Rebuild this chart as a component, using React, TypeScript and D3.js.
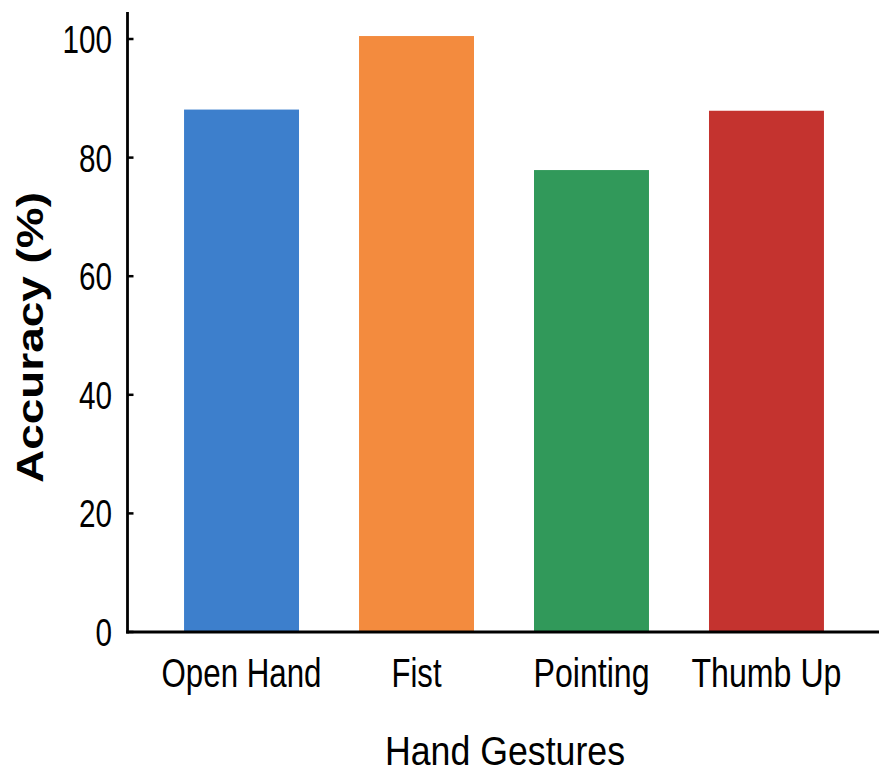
import React from "react";
import * as d3 from "d3";

const categories = ["Open Hand", "Fist", "Pointing", "Thumb Up"];
const accuracy = [88.1, 100.5, 77.9, 87.9];
const barColors = ["#3d7fcc", "#f38b3e", "#31995a", "#c4332f"];
const yTicks = [0, 20, 40, 60, 80, 100];
const labelWidths = [160, 50, 116, 150];
const xTitle = "Hand Gestures";
const yTitle = "Accuracy (%)";

const W = 880;
const H = 771;
const FONT = "'Liberation Sans', Arial, Helvetica, sans-serif";

export default function App() {
  const axisX = 127.5;
  const axisY = 632;
  const y = d3.scaleLinear().domain([0, 100]).range([axisY, 39]);
  const x = d3
    .scaleBand<string>()
    .domain(categories)
    .range([127, 881])
    .paddingInner(0.343)
    .paddingOuter(0.326);

  return (
    <svg
      width={W}
      height={H}
      style={{ position: "absolute", left: 0, top: 0, background: "#fff" }}
    >
      {categories.map((c, i) => (
        <rect
          key={c}
          x={x(c)!}
          y={y(accuracy[i])}
          width={x.bandwidth()}
          height={axisY - y(accuracy[i])}
          fill={barColors[i]}
        />
      ))}
      {/* axes */}
      <line x1={axisX} x2={axisX} y1={12} y2={axisY + 1.5} stroke="#000" strokeWidth={2.8} />
      <line x1={axisX - 1.4} x2={879} y1={axisY} y2={axisY} stroke="#000" strokeWidth={3} />
      {yTicks.map((t) => (
        <g key={t}>
          <line x1={axisX} x2={axisX + 6} y1={y(t)} y2={y(t)} stroke="#000" strokeWidth={2.5} />
          <text
            x={112 - String(t).length * 16.5}
            y={y(t) + 14}
            fontFamily={FONT}
            fontSize={39}
            textLength={String(t).length * 16.5}
            lengthAdjust="spacingAndGlyphs"
            fill="#000"
          >
            {t}
          </text>
        </g>
      ))}
      {categories.map((c, i) => (
        <text
          key={c}
          x={x(c)! + x.bandwidth() / 2 - labelWidths[i] / 2}
          y={687}
          fontFamily={FONT}
          fontSize={41}
          textLength={labelWidths[i]}
          lengthAdjust="spacingAndGlyphs"
          fill="#000"
        >
          {c}
        </text>
      ))}
      <text
        x={505 - 120}
        y={765}
        fontFamily={FONT}
        fontSize={41}
        textLength={240}
        lengthAdjust="spacingAndGlyphs"
        fill="#000"
      >
        {xTitle}
      </text>
      <text
        transform={`translate(43, ${337.5 + 145.5}) rotate(-90)`}
        x={0}
        y={0}
        fontFamily={FONT}
        fontSize={37}
        fontWeight="bold"
        textLength={291}
        lengthAdjust="spacingAndGlyphs"
        fill="#000"
      >
        {yTitle}
      </text>
    </svg>
  );
}
